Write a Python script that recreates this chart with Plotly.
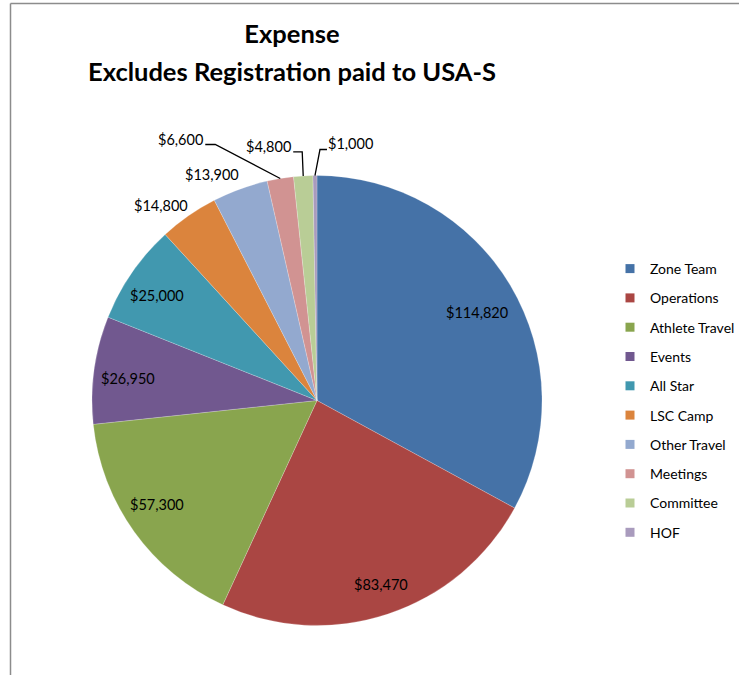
import math
import plotly.graph_objects as go

# ---------------- data ----------------
categories = ["Zone Team", "Operations", "Athlete Travel", "Events", "All Star",
              "LSC Camp", "Other Travel", "Meetings", "Committee", "HOF"]
values = [114820, 83470, 57300, 26950, 25000, 14800, 13900, 6600, 4800, 1000]
value_labels = ["$114,820", "$83,470", "$57,300", "$26,950", "$25,000",
                "$14,800", "$13,900", "$6,600", "$4,800", "$1,000"]
title_line1 = "Expense"
title_line2 = "Excludes Registration paid to USA-S"

# ---------------- style ----------------
colors = ["#4572A7", "#AA4643", "#89A54E", "#71588F", "#4198AF",
          "#DB843D", "#93A9CF", "#D19392", "#B9CD96", "#A99BBD"]
W, H = 739, 675
CX, CY, R = 317, 400.5, 225          # pie centre / radius in pixels
FONT = "Lato"
LABEL_SIZE = 14.5
TITLE_SIZE = 25.5
inside_rf = 0.85
# fine pixel nudges for inside labels (Excel "best fit" placement)
inside_nudge = {0: (-4, 10), 1: (4, 2), 2: (-5, -8), 3: (0, 4), 4: (-3, 4)}
# outside label placement style: (dx, dy, leader)
outside_style = {
    5: (-28, -10, None),
    6: (-28, -15, None),
    7: (-100, -39, "right"),
    8: (-35, -29, "right_v"),
    9: (36, -32, "left_v"),
}


def px(x):
    return x / W


def py(y):
    return 1 - y / H


total = sum(values)
mid_angles = []
acc = 0
for v in values:
    mid_angles.append((acc + v / 2) / total * 2 * math.pi)
    acc += v

fig = go.Figure()
fig.add_trace(go.Pie(
    labels=categories, values=values, sort=False, direction="clockwise",
    rotation=0, textinfo="none", hoverinfo="label+value",
    marker=dict(colors=colors, line=dict(color="rgba(255,255,255,0.35)", width=0.6)),
    domain=dict(x=[px(CX - R), px(CX + R)], y=[py(CY + R), py(CY - R)]),
    showlegend=False,
))

# legend via marker-only entries (one group each for Excel-like spacing)
for name, col in zip(categories, colors):
    fig.add_trace(go.Scatter(
        x=[None], y=[None], mode="markers", name=name, legendgroup=name,
        marker=dict(symbol="square", size=9, color=col),
    ))

annotations = []
shapes = []
for i, (lab, ang) in enumerate(zip(value_labels, mid_angles)):
    sx, sy = math.sin(ang), -math.cos(ang)
    if i not in outside_style:
        nx, ny = inside_nudge.get(i, (0, 0))
        tx, ty = CX + inside_rf * R * sx + nx, CY + inside_rf * R * sy + ny
        annotations.append(dict(x=px(tx), y=py(ty), xref="paper", yref="paper",
                                text=lab, showarrow=False,
                                xanchor="center", yanchor="middle",
                                font=dict(family=FONT, size=LABEL_SIZE, color="#000")))
    else:
        dx, dy, leader = outside_style[i]
        ex, ey = CX + R * sx, CY + R * sy     # edge point of slice
        tx, ty = ex + dx, ey + dy
        annotations.append(dict(x=px(tx), y=py(ty), xref="paper", yref="paper",
                                text=lab, showarrow=False,
                                xanchor="center", yanchor="middle",
                                font=dict(family=FONT, size=LABEL_SIZE, color="#000")))
        half = 23 if len(lab) > 6 else 22
        if leader == "right":
            endx, endy = tx + half + 3, ty + 5
            pts = [(ex, ey), (endx + 10, endy), (endx, endy)]
        elif leader == "right_v":
            endx, endy = tx + half + 3, ty + 5
            pts = [(ex, ey), (ex - 1, endy), (endx, endy)]
        elif leader == "left_v":
            endx, endy = tx - half - 2, ty + 6
            pts = [(ex, ey), (ex + 5, endy), (endx, endy)]
        else:
            pts = None
        if pts:
            path = "M " + " L ".join(f"{px(a):.5f},{py(b):.5f}" for a, b in pts)
            shapes.append(dict(type="path", xref="paper", yref="paper", path=path,
                               line=dict(color="black", width=1.3)))

# chart frame (left + top edges visible in the crop)
shapes.append(dict(type="line", xref="paper", yref="paper",
                   x0=px(10.5), y0=py(H), x1=px(10.5), y1=py(3.5),
                   line=dict(color="#8C8C8C", width=1.5)))
shapes.append(dict(type="line", xref="paper", yref="paper",
                   x0=px(10.5), y0=py(3.5), x1=1.0, y1=py(3.5),
                   line=dict(color="#8C8C8C", width=1.5)))

annotations.append(dict(x=px(291.5), y=py(71), xref="paper", yref="paper",
                        text=f"<b>{title_line2}</b>", showarrow=False,
                        xanchor="center", yanchor="middle",
                        font=dict(family=FONT, size=TITLE_SIZE, color="#000")))

fig.update_layout(
    width=W, height=H,
    margin=dict(l=0, r=0, t=0, b=0, autoexpand=False),
    paper_bgcolor="white", plot_bgcolor="white",
    title=dict(text=f"<b>{title_line1}</b>", x=px(292), y=py(34),
               xanchor="center", yanchor="middle",
               font=dict(family=FONT, size=TITLE_SIZE, color="#000")),
    xaxis=dict(visible=False), yaxis=dict(visible=False),
    legend=dict(x=px(610), y=py(253), xanchor="left", yanchor="top",
                font=dict(family=FONT, size=14, color="#000"),
                tracegroupgap=8.1, traceorder="grouped",
                itemwidth=30, bgcolor="rgba(0,0,0,0)"),
    annotations=annotations, shapes=shapes,
)

fig.write_html("out.html", config={"displayModeBar": False},
               post_script="document.body.style.margin='0';")
